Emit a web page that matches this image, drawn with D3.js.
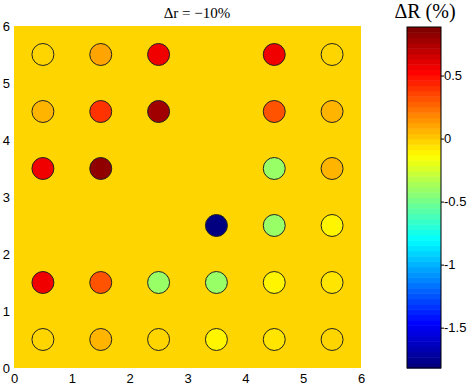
<!doctype html>
<html>
<head>
<meta charset="utf-8">
<title>dR map</title>
<style>
  body { margin: 0; background: #fff; }
  svg text { font-family: "Liberation Sans", Arial, sans-serif; font-size: 13px; fill: #000; }
  .serif { font-family: "Liberation Serif", "Times New Roman", serif; }
</style>
<script src="https://cdnjs.cloudflare.com/ajax/libs/d3/7.8.5/d3.min.js"></script>
</head>
<body>
<div id="chart"></div>
<script>
// cell centres (x columns, y rows from top to bottom)
const xCols = [0.5, 1.5, 2.5, 3.5, 4.5, 5.5];
const yRows = [5.5, 4.5, 3.5, 2.5, 1.5, 0.5];
// ΔR in %, null = no circle
const dR = [
  [-0.03, 0.10, 0.55, null,  0.55, -0.03],
  [ 0.08, 0.40, 0.80, null,  0.30,  0.06],
  [ 0.55, 0.82, null, null, -0.40,  0.06],
  [ null, null, null, -1.80, -0.40, -0.12],
  [ 0.55, 0.30, -0.40, -0.40, -0.12, -0.07],
  [-0.03, 0.04, -0.03, -0.12, -0.07, -0.03]
];
const bgValue = -0.03;
const axisTicks = [0, 1, 2, 3, 4, 5, 6];
const cbTicks = [0.5, 0, -0.5, -1, -1.5];
const cLim = [-1.82, 0.885];

const W = 471, H = 389;
const svg = d3.select('#chart').append('svg').attr('width', W).attr('height', H);

const x = d3.scaleLinear().domain([0, 6]).range([14, 361]);
const y = d3.scaleLinear().domain([0, 6]).range([368, 26]);

// matlab jet, 64 levels
function jet(t) {
  t = Math.floor(Math.max(0, Math.min(0.9999, t)) * 64) / 63;
  const c = v => Math.round(255 * Math.max(0, Math.min(1, v)));
  return d3.rgb(c(1.5 - Math.abs(4 * t - 3)), c(1.5 - Math.abs(4 * t - 2)), c(1.5 - Math.abs(4 * t - 1)));
}
const color = d3.scaleSequential(jet).domain(cLim);

// background patch
svg.append('rect')
  .attr('x', x(0)).attr('y', y(6))
  .attr('width', x(6) - x(0)).attr('height', y(0) - y(6))
  .attr('fill', color(bgValue));

const pts = [];
dR.forEach((row, i) => row.forEach((v, j) => {
  if (v !== null) pts.push({ x: xCols[j], y: yRows[i], v: v });
}));

const r = x(0.19) - x(0);
svg.selectAll('circle.pt').data(pts).join('circle')
  .attr('class', 'pt')
  .attr('cx', d => x(d.x))
  .attr('cy', d => y(d.y))
  .attr('r', r)
  .attr('fill', d => color(d.v))
  .attr('stroke', '#222')
  .attr('stroke-width', 1);

// axes
const xAx = svg.append('g').attr('transform', `translate(0,${y(0)})`)
  .call(d3.axisBottom(x).tickValues(axisTicks).tickSize(0).tickPadding(6).tickFormat(d3.format('d')));
const yAx = svg.append('g').attr('transform', `translate(${x(0)},0)`)
  .call(d3.axisLeft(y).tickValues(axisTicks).tickSize(0).tickPadding(4).tickFormat(d3.format('d')));
[xAx, yAx].forEach(g => {
  g.select('.domain').remove();
  g.selectAll('text').style('font-size', '13px').attr('font-family', null);
});

svg.append('text').attr('class', 'serif')
  .attr('x', 197).attr('y', 18)
  .attr('text-anchor', 'middle')
  .style('font-size', '15px')
  .text('Δr = −10%');

// colorbar
const cb = { x0: 407, x1: 441 };
const cy = d3.scaleLinear().domain(cLim).range([368, 27]);
const steps = d3.range(64).map(k => cLim[0] + (k + 0.5) * (cLim[1] - cLim[0]) / 64);
const stepH = (cy(cLim[0]) - cy(cLim[1])) / 64;
svg.append('g').selectAll('rect').data(steps).join('rect')
  .attr('x', cb.x0)
  .attr('y', d => cy(d) - stepH / 2)
  .attr('width', cb.x1 - cb.x0)
  .attr('height', stepH + 0.5)
  .attr('fill', d => color(d));
svg.append('rect')
  .attr('x', cb.x0).attr('y', cy(cLim[1]))
  .attr('width', cb.x1 - cb.x0).attr('height', cy(cLim[0]) - cy(cLim[1]))
  .attr('fill', 'none').attr('stroke', '#000').attr('stroke-width', 1);

const cAx = svg.append('g').attr('transform', `translate(${cb.x1},0)`)
  .call(d3.axisRight(cy).tickValues(cbTicks).tickSize(3).tickPadding(0).tickFormat(d => d === 0 ? '0' : String(d)));
cAx.select('.domain').remove();
cAx.selectAll('text').style('font-size', '13px').attr('font-family', null);

svg.append('text').attr('class', 'serif')
  .attr('x', 425).attr('y', 18)
  .attr('text-anchor', 'middle')
  .style('font-size', '20px')
  .text('ΔR (%)');
</script>
</body>
</html>
